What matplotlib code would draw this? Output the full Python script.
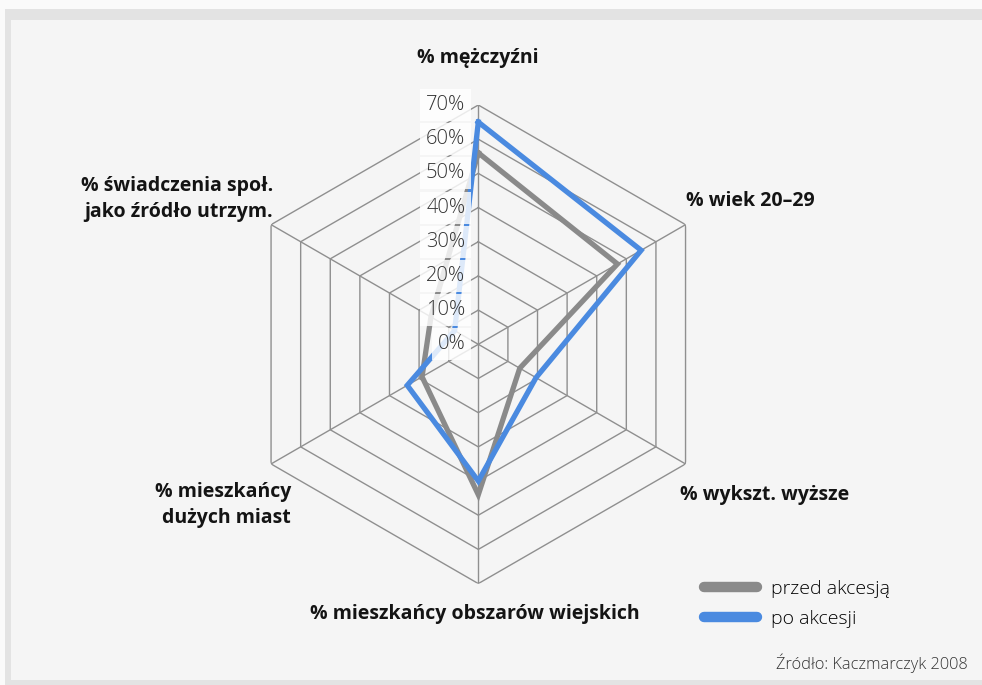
import matplotlib
matplotlib.use('Agg')
import matplotlib.pyplot as plt
import numpy as np
from matplotlib.patches import Rectangle
from matplotlib.lines import Line2D
from matplotlib import transforms

# ---- data ----
categories = ['% mężczyźni', '% wiek 20–29', '% wykszt. wyższe',
              '% mieszkańcy obszarów wiejskich', '% mieszkańcy\ndużych miast',
              '% świadczenia społ.\njako źródło utrzym.']
przed_akcesja = [56, 47, 14, 44, 19, 16]
po_akcesji = [65, 55, 19.5, 40, 24, 8]
tick_values = [0, 10, 20, 30, 40, 50, 60, 70]
tick_labels = ['0%', '10%', '20%', '30%', '40%', '50%', '60%', '70%']
series_names = ['przed akcesją', 'po akcesji']
source_text = 'Źródło: Kaczmarczyk 2008'

# ---- style ----
GRAY = '#8a8a8a'
BLUE = '#4a8ae0'
GRID = '#8f8f8f'
TXT = '#141414'
LIGHT_TXT = '#333333'

W, H = 982, 685
fig = plt.figure(figsize=(W / 100, H / 100), dpi=100)
fig.patch.set_facecolor('#fafafa')


def px(x, y):
    return x / W, 1 - y / H


# frame
fig.patches.append(Rectangle(px(5, 685), (W - 5) / W, (685 - 9) / H, transform=fig.transFigure,
                             facecolor='#e3e3e3', edgecolor='none', zorder=-3))
fig.patches.append(Rectangle(px(11, 680), (W - 11) / W, (680 - 20) / H, transform=fig.transFigure,
                             facecolor='#f5f5f5', edgecolor='none', zorder=-2))

cx, cy, R = 478.3, 344.3, 239.3
ax = fig.add_axes([(cx - R) / W, 1 - (cy + R) / H, 2 * R / W, 2 * R / H], projection='polar')
ax.set_theta_offset(np.pi / 2)
ax.set_theta_direction(-1)
ax.set_ylim(0, 70)
ax.grid(False)
ax.spines['polar'].set_visible(False)
ax.set_xticks([])
ax.set_yticks([])
ax.patch.set_alpha(0)

n = len(categories)
angles = np.linspace(0, 2 * np.pi, n, endpoint=False)
ang_c = np.append(angles, angles[0])

# hexagonal grid
for v in tick_values[1:]:
    ax.plot(ang_c, [v] * (n + 1), color=GRID, lw=1.0, zorder=1)
for a in angles:
    ax.plot([a, a], [0, tick_values[-1]], color=GRID, lw=1.0, zorder=1)

# series
ax.plot(ang_c, przed_akcesja + przed_akcesja[:1], color=GRAY, lw=3.8, zorder=3,
        solid_joinstyle='miter')
ax.plot(ang_c, po_akcesji + po_akcesji[:1], color=BLUE, lw=3.8, zorder=3,
        solid_joinstyle='miter')

# radial tick labels
off = transforms.offset_copy(ax.transData, fig=fig, x=-13, y=0, units='dots')
for v, lab in zip(tick_values, tick_labels):
    ax.text(0, v, lab, transform=off, ha='right', va='center', fontsize=14.5,
            family='Open Sans', fontweight='light', color=LIGHT_TXT, zorder=5,
            bbox=dict(boxstyle='square,pad=0.3', fc='white', ec='none', alpha=0.82))

# category labels
lab_kw = dict(fontsize=14, family='Open Sans', fontweight='bold', color=TXT, va='center',
              linespacing=1.35)
fig.text(*px(478, 58), categories[0], ha='center', **lab_kw)
fig.text(*px(686, 201), categories[1], ha='left', **lab_kw)
fig.text(*px(680, 495), categories[2], ha='left', **lab_kw)
fig.text(*px(475, 614), categories[3], ha='center', **lab_kw)
fig.text(*px(291, 505), categories[4], ha='right', multialignment='right', **lab_kw)
fig.text(*px(273, 199), categories[5], ha='right', multialignment='right', **lab_kw)

# legend
handles = [Line2D([], [], color=GRAY, lw=7.5, solid_capstyle='round'),
           Line2D([], [], color=BLUE, lw=7.5, solid_capstyle='round')]
fig.legend(handles, series_names, loc='upper left', bbox_to_anchor=px(704, 580),
           frameon=False, handlelength=2.7, handletextpad=0.75,
           labelspacing=0.6, borderaxespad=0, borderpad=0,
           prop=dict(family='Open Sans', weight='light', size=14))

fig.text(*px(968, 663), source_text, ha='right', va='center', fontsize=11.8,
         family='Open Sans', fontweight='light', color=LIGHT_TXT)

fig.savefig('out.png', dpi=100, facecolor=fig.get_facecolor())
